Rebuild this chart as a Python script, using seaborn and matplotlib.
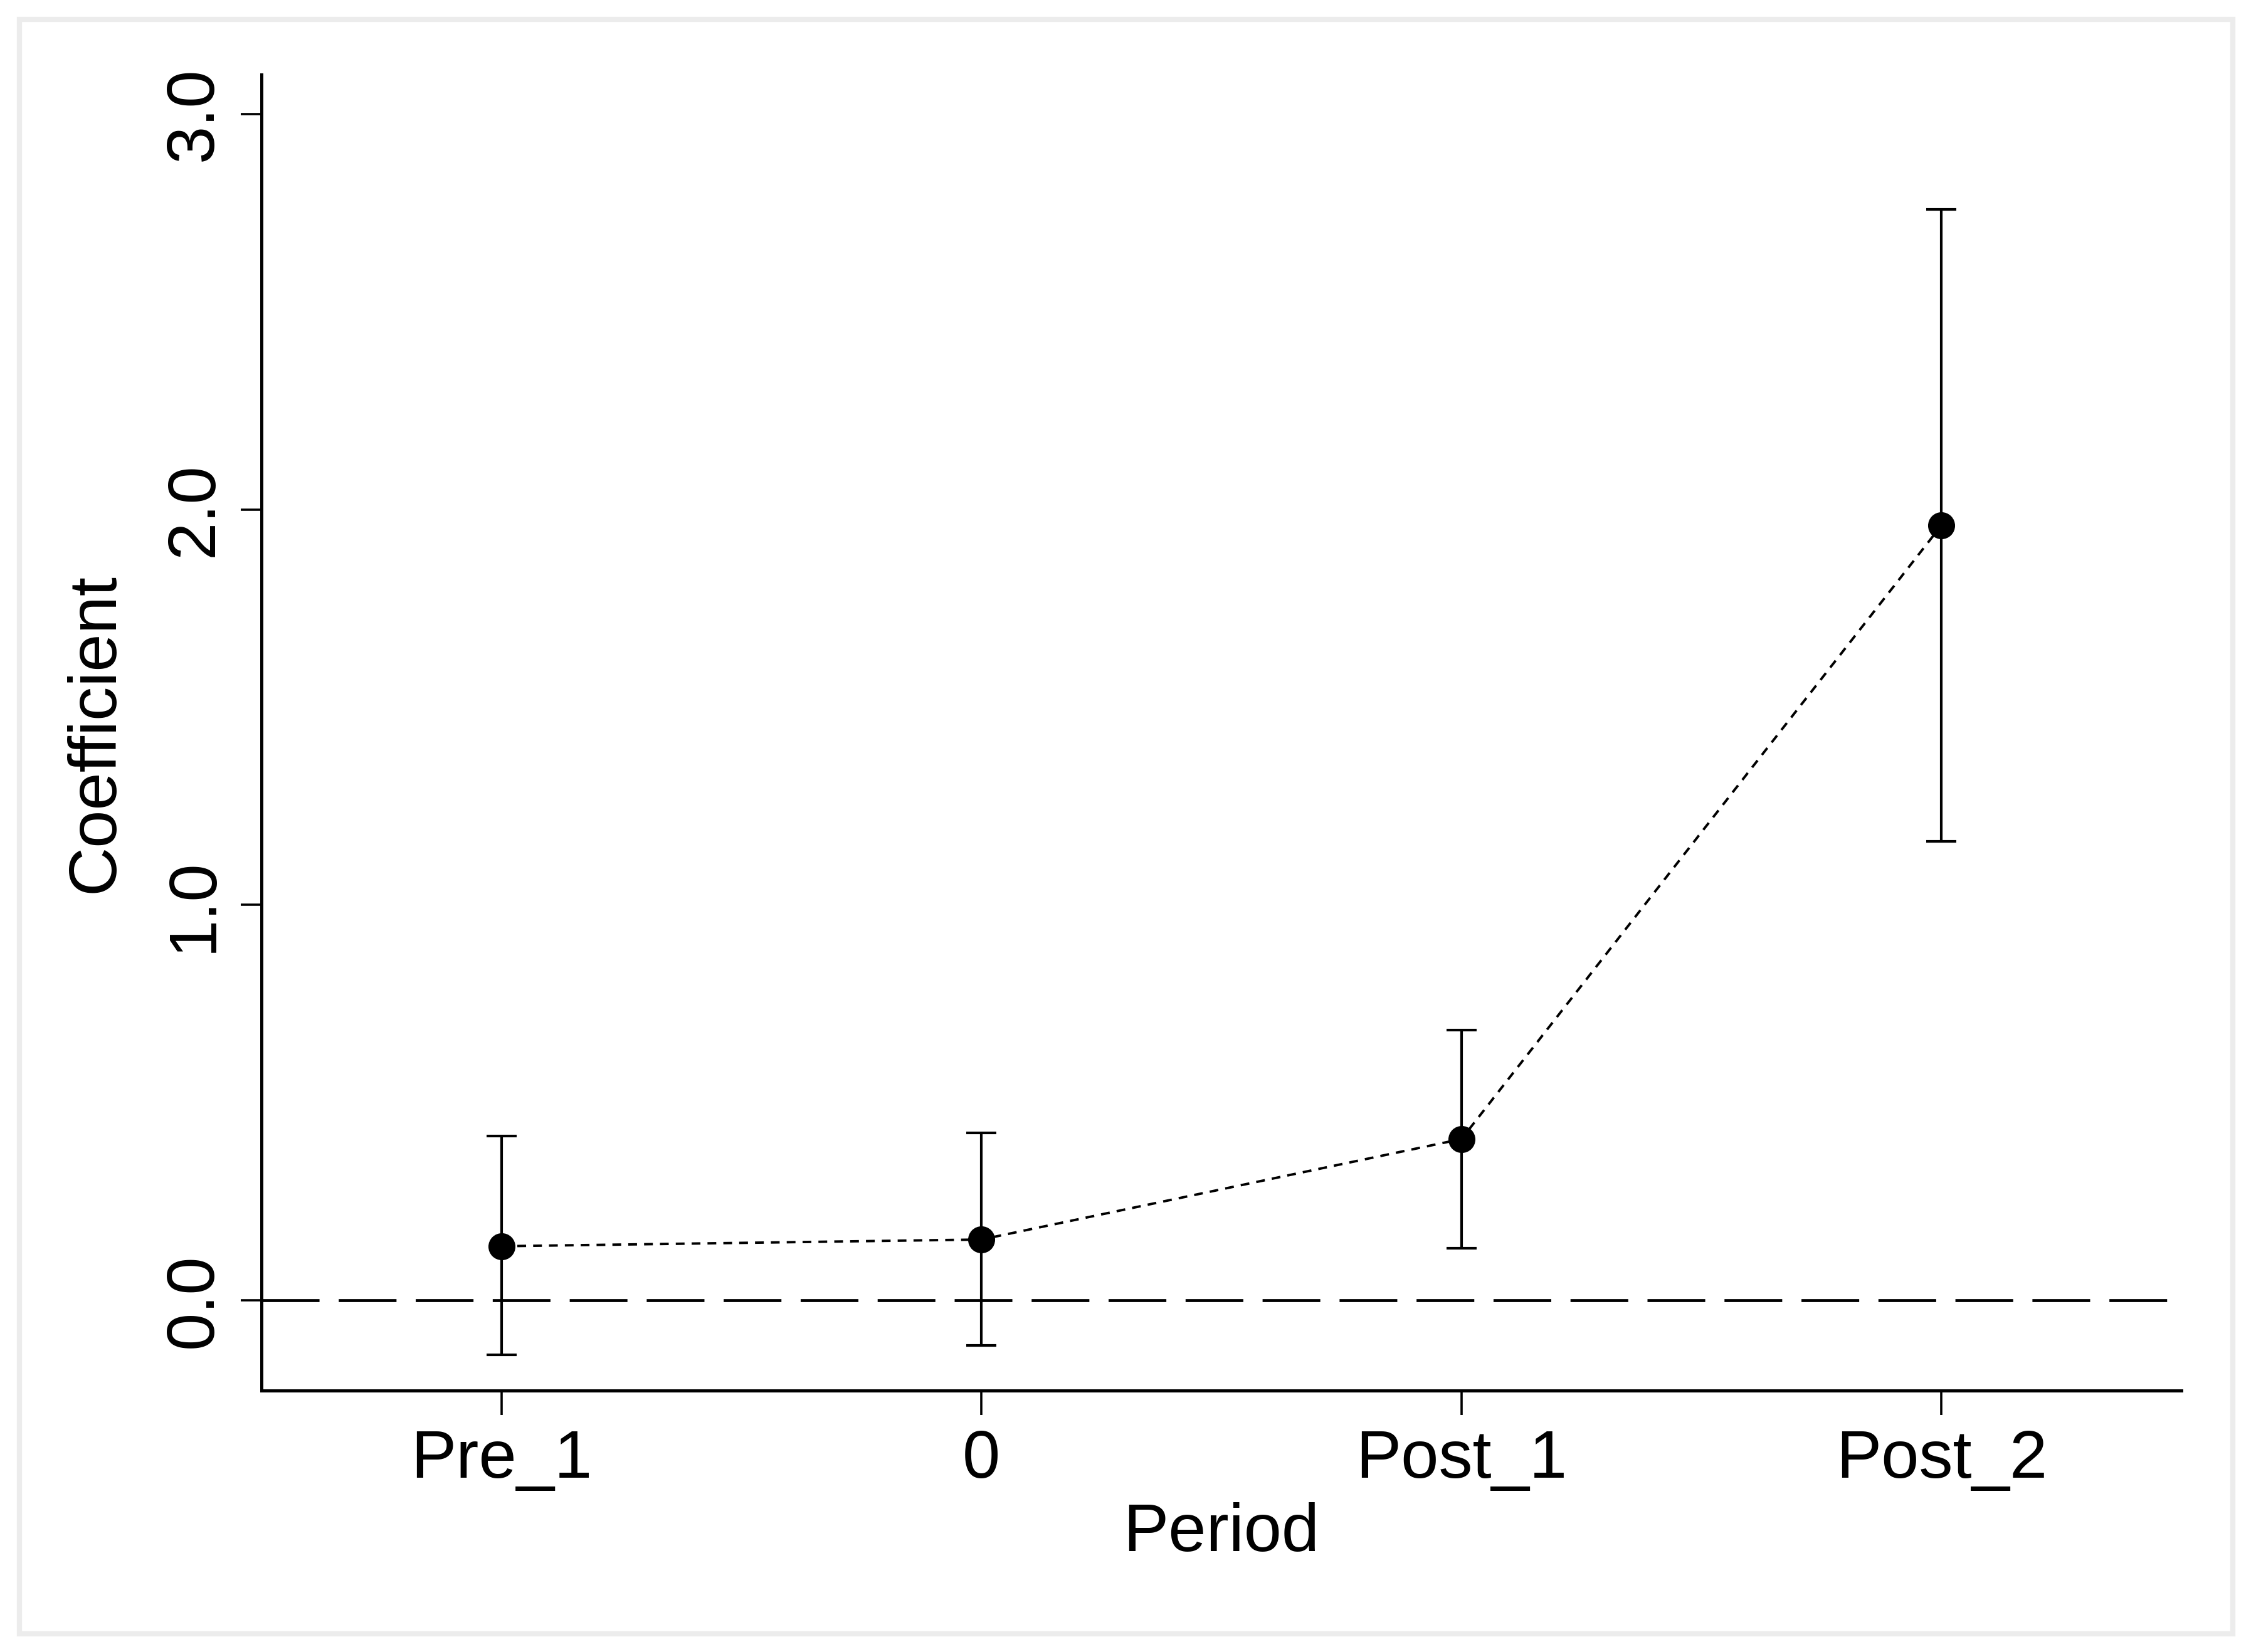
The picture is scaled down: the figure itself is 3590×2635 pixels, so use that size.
import matplotlib
matplotlib.use("Agg")
import matplotlib.pyplot as plt
import seaborn as sns
import pandas as pd
import numpy as np
from matplotlib.patches import Rectangle

# ---- data ----
periods = ["Pre_1", "0", "Post_1", "Post_2"]
coef = [0.137, 0.154, 0.408, 1.960]
ci_low = [-0.137, -0.114, 0.132, 1.161]
ci_high = [0.416, 0.423, 0.684, 2.759]
y_ticks = [0.0, 1.0, 2.0, 3.0]
y_tick_labels = ["0.0", "1.0", "2.0", "3.0"]

sns.set_theme(style="white")
plt.rcParams["font.family"] = ["Liberation Sans", "DejaVu Sans"]
plt.rcParams["text.color"] = "black"
plt.rcParams["axes.labelcolor"] = "black"
plt.rcParams["xtick.color"] = "black"
plt.rcParams["ytick.color"] = "black"

df = pd.DataFrame({"pos": np.arange(len(periods)), "period": periods,
                   "coef": coef, "lo": ci_low, "hi": ci_high})

W, H, DPI = 3590, 2635, 200
fig = plt.figure(figsize=(W / DPI, H / DPI), dpi=DPI, facecolor="white")
ax = fig.add_axes([417 / W, 1 - 2218 / H, (3479 - 417) / W, (2218 - 119) / H])
ax.set_facecolor("white")

# zero reference line
ax.axhline(0, color="black", lw=1.7, dashes=(19.5, 6.5), zorder=1)

# confidence intervals
ax.errorbar(df["pos"], df["coef"],
            yerr=[df["coef"] - df["lo"], df["hi"] - df["coef"]],
            fmt="none", ecolor="black", elinewidth=1.5, capsize=8.5,
            capthick=1.5, zorder=2)

# connecting dotted line
sns.lineplot(data=df, x="pos", y="coef", ax=ax, color="black", lw=1.4,
             dashes=False, zorder=3, sort=False)
ax.lines[-1].set_dashes((3.6, 2.9))

# points
sns.scatterplot(data=df, x="pos", y="coef", ax=ax, color="black", s=15.5 ** 2,
                edgecolor="black", linewidth=0, zorder=4, legend=False)

ax.set_xlim(-0.5, 3.5)
ax.set_ylim(-0.228, 3.10)

ax.set_xticks(df["pos"])
ax.set_xticklabels(periods, fontsize=39)
ax.set_yticks(y_ticks)
ax.set_yticklabels(y_tick_labels, fontsize=39, rotation=90, va="center")

ax.tick_params(axis="x", direction="out", length=14, width=1.3, pad=8,
               color="black", labelcolor="black", bottom=True)
ax.tick_params(axis="y", direction="out", length=12, width=1.3, pad=8.5,
               color="black", labelcolor="black", left=True)

for side in ["top", "right"]:
    ax.spines[side].set_visible(False)
for side in ["left", "bottom"]:
    ax.spines[side].set_color("black")
    ax.spines[side].set_linewidth(1.8)

ax.set_xlabel("Period", fontsize=39, color="black")
ax.set_ylabel("Coefficient", fontsize=39, color="black")
ax.xaxis.set_label_coords(0.5, -0.085)
ax.yaxis.set_label_coords(-0.070, 0.5)
ax.xaxis.label.set_va("top")

# light outer frame
fig.patches.append(Rectangle((31 / W, 1 - 2606 / H), (3561 - 31) / W, (2606 - 31) / H,
                             transform=fig.transFigure, fill=False,
                             edgecolor="#ececec", lw=3, zorder=0))

fig.savefig("out.png", dpi=DPI, facecolor="white")
